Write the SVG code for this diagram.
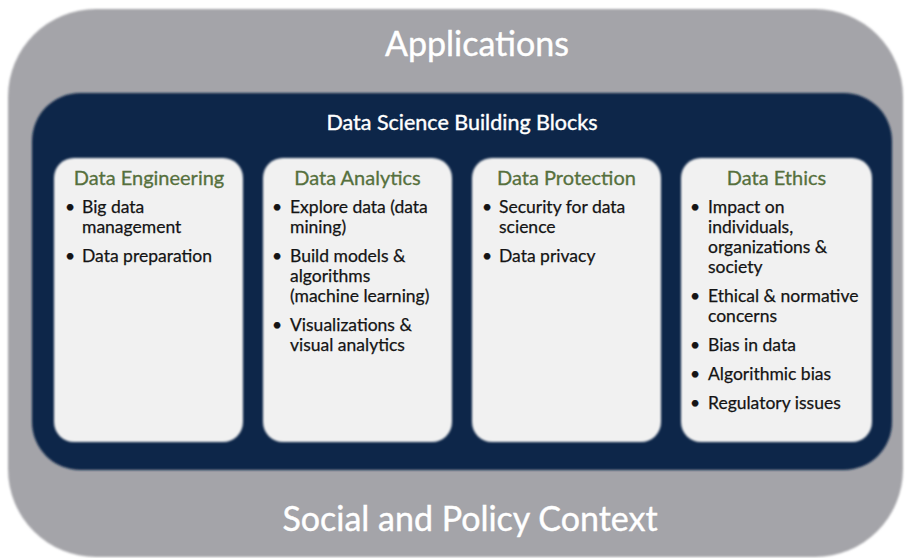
<svg xmlns="http://www.w3.org/2000/svg" width="907" height="558" viewBox="0 0 907 558">
  <defs>
    <filter id="soft" x="-5%" y="-5%" width="110%" height="110%">
      <feGaussianBlur stdDeviation="0.8"/>
    </filter>
  </defs>
  <style>
    .outer { fill: #a4a4a9; }
    .inner { fill: #10284a; }
    .card { fill: #f1f1f1; }
    .big { font-family: Lato, "Liberation Sans", sans-serif; fill: #ffffff; stroke: #ffffff; stroke-width: 0.4; text-anchor: middle; }
    .ctitle { font-family: Lato, "Liberation Sans", sans-serif; font-size: 20px; fill: #56703d; stroke: #56703d; stroke-width: 0.3; text-anchor: middle; }
    .item { font-family: Lato, "Liberation Sans", sans-serif; font-size: 17.5px; fill: #141414; stroke: #141414; stroke-width: 0.25; }
  </style>
  <rect width="907" height="558" fill="#ffffff"/>
  <g id="social-policy-context">
    <rect class="outer" x="8" y="9" width="895" height="548" rx="88" ry="88" filter="url(#soft)"/>
    <text class="big" x="477" y="56" font-size="34">Applications</text>
    <text class="big" x="470" y="531" font-size="34">Social and Policy Context</text>
  </g>
  <g id="building-blocks">
    <rect class="inner" x="32" y="93" width="860" height="377" rx="48" ry="48" filter="url(#soft)"/>
    <text class="big" x="462" y="130" font-size="21.5">Data Science Building Blocks</text>
  </g>
  <g id="data-engineering">
    <rect class="card" x="54" y="158" width="189" height="284" rx="20" ry="20" filter="url(#soft)"/>
    <text class="ctitle" x="149" y="185">Data Engineering</text>
    <text class="item" x="65" y="213">•</text>
    <text class="item" x="82" y="213">Big data</text>
    <text class="item" x="82" y="233">management</text>
    <text class="item" x="65" y="262">•</text>
    <text class="item" x="82" y="262">Data preparation</text>
  </g>
  <g id="data-analytics">
    <rect class="card" x="263" y="158" width="189" height="284" rx="20" ry="20" filter="url(#soft)"/>
    <text class="ctitle" x="357.5" y="185">Data Analytics</text>
    <text class="item" x="272" y="213">•</text>
    <text class="item" x="290" y="213">Explore data (data</text>
    <text class="item" x="290" y="233">mining)</text>
    <text class="item" x="272" y="262">•</text>
    <text class="item" x="290" y="262">Build models &amp;</text>
    <text class="item" x="290" y="282">algorithms</text>
    <text class="item" x="290" y="302">(machine learning)</text>
    <text class="item" x="272" y="331">•</text>
    <text class="item" x="290" y="331">Visualizations &amp;</text>
    <text class="item" x="290" y="351">visual analytics</text>
  </g>
  <g id="data-protection">
    <rect class="card" x="472" y="158" width="189" height="284" rx="20" ry="20" filter="url(#soft)"/>
    <text class="ctitle" x="566.5" y="185">Data Protection</text>
    <text class="item" x="482" y="213">•</text>
    <text class="item" x="499" y="213">Security for data</text>
    <text class="item" x="499" y="233">science</text>
    <text class="item" x="482" y="262">•</text>
    <text class="item" x="499" y="262">Data privacy</text>
  </g>
  <g id="data-ethics">
    <rect class="card" x="681" y="158" width="191" height="284" rx="20" ry="20" filter="url(#soft)"/>
    <text class="ctitle" x="776.5" y="185">Data Ethics</text>
    <text class="item" x="690" y="213">•</text>
    <text class="item" x="708" y="213">Impact on</text>
    <text class="item" x="708" y="233">individuals,</text>
    <text class="item" x="708" y="253">organizations &amp;</text>
    <text class="item" x="708" y="273">society</text>
    <text class="item" x="690" y="302">•</text>
    <text class="item" x="708" y="302">Ethical &amp; normative</text>
    <text class="item" x="708" y="322">concerns</text>
    <text class="item" x="690" y="351">•</text>
    <text class="item" x="708" y="351">Bias in data</text>
    <text class="item" x="690" y="380">•</text>
    <text class="item" x="708" y="380">Algorithmic bias</text>
    <text class="item" x="690" y="409">•</text>
    <text class="item" x="708" y="409">Regulatory issues</text>
  </g>
  <g id="connectors"></g>
</svg>
